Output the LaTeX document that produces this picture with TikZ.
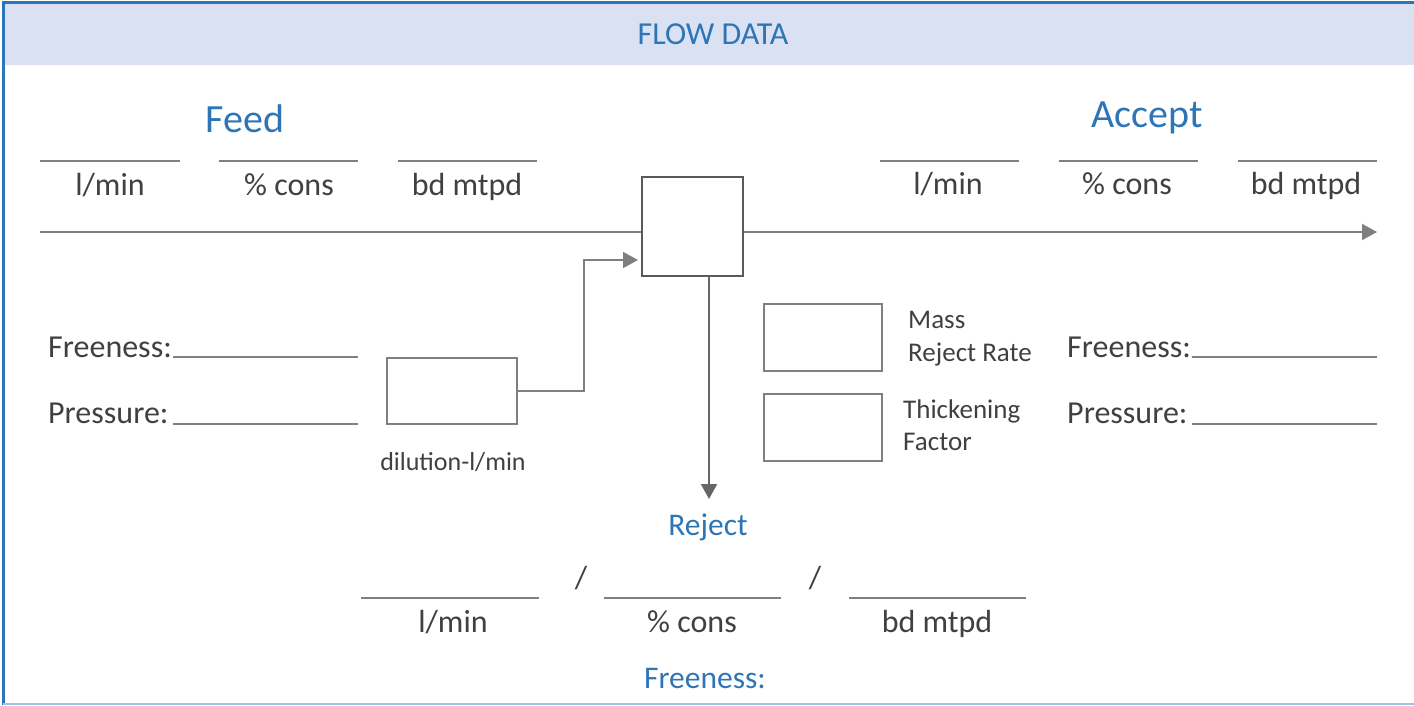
\documentclass[tikz,border=0pt]{standalone}
\usepackage{fontspec}
\setmainfont{Carlito}
\usetikzlibrary{arrows.meta}
\definecolor{hdrblue}{HTML}{2E75B6}
\definecolor{hdrfill}{HTML}{DAE1F3}
\definecolor{txtgray}{HTML}{404040}
\definecolor{linegray}{HTML}{808080}
\definecolor{boxgray}{HTML}{7F7F7F}
\definecolor{darkbox}{HTML}{595959}
\definecolor{botblue}{HTML}{9DC3E6}
\begin{document}
\begin{tikzpicture}[x=1pt,y=-1pt,
  lbl/.style={text=txtgray,font=\fontsize{32}{38}\selectfont,anchor=base,inner sep=0pt},
  small/.style={text=txtgray,font=\fontsize{27}{32}\selectfont,anchor=base west,inner sep=0pt},
  title/.style={text=hdrblue,font=\fontsize{40}{46}\selectfont,anchor=base,inner sep=0pt},
  bluelbl/.style={text=hdrblue,font=\fontsize{31.5}{36}\selectfont,anchor=base,inner sep=0pt},
  field/.style={linegray,line width=1.5pt},
  flow/.style={boxgray,line width=2pt},
  valbox/.style={draw=boxgray,line width=1.5pt,fill=white,inner sep=0pt},
  tip/.style={-{Triangle[length=15pt,width=16pt]}}
]
\useasboundingbox (0,0) rectangle (1414,705);
% frame and header
\fill[hdrfill] (3,3) rectangle (1414,65);
\draw[hdrblue,line width=3pt] (3,705) -- (3,2.5) -- (1414,2.5);
\draw[botblue,line width=2pt] (3,704) -- (1414,704);
\node[bluelbl,font=\fontsize{32}{38}\selectfont] (hdr) at (713,44) {FLOW DATA};

% titles
\node[title] (feed) at (245,132) {Feed};
\node[title] (accept) at (1147,127) {Accept};

% feed fields
\draw[field] (40,161) -- (180,161);
\draw[field] (219,161) -- (358,161);
\draw[field] (398,161) -- (537,161);
\node[lbl] (fl) at (110,195) {l/min};
\node[lbl] (fc) at (289,195) {\% cons};
\node[lbl] (fb) at (467,195) {bd mtpd};

% accept fields
\draw[field] (880,161) -- (1019,161);
\draw[field] (1059,161) -- (1198,161);
\draw[field] (1238,161) -- (1377,161);
\node[lbl] (al) at (948,194) {l/min};
\node[lbl] (ac) at (1127,194) {\% cons};
\node[lbl] (ab) at (1306,194) {bd mtpd};

% main flow
\coordinate (in) at (40,232);
\coordinate (out) at (1377,232);
\node[valbox,draw=darkbox,minimum width=101pt,minimum height=99pt] (screen) at (692.5,226.5) {};
\draw[flow] (in) -- (screen.west |- in);
\draw[flow,tip] (screen.east |- out) -- (out);

% dilution
\node[valbox,minimum width=130pt,minimum height=66pt] (dil) at (452,391) {};
\coordinate (dilin) at (638,260);
\draw[boxgray,line width=1.5pt,tip] (dil.east) -- (584,391) -- (584,260) -- (dilin);
\node[lbl,font=\fontsize{26}{30}\selectfont] (dill) at (453,470) {dilution-l/min};

% reject flow
\coordinate (rej) at (709,499);
\draw[flow,draw=txtgray!80,tip] (709,276) -- (rej);
\node[bluelbl] (rejl) at (708,535) {Reject};

% reject fields
\draw[field] (361,598) -- (539,598);
\draw[field] (604,598) -- (781,598);
\draw[field] (849,598) -- (1026,598);
\node[lbl] (s1) at (581,588) {/};
\node[lbl] (s2) at (815,588) {/};
\node[lbl] (rl) at (453,632) {l/min};
\node[lbl] (rc) at (692,632) {\% cons};
\node[lbl] (rb) at (937,632) {bd mtpd};
\node[bluelbl] (rf) at (705,688) {Freeness:};

% mass reject / thickening
\node[valbox,minimum width=118pt,minimum height=67pt] (mrr) at (823,337.5) {};
\node[valbox,minimum width=118pt,minimum height=67pt] (tf) at (823,427.5) {};
\node[small] (mrr1) at (908,328) {Mass};
\node[small] (mrr2) at (908,361) {Reject Rate};
\node[small] (tf1) at (903,418) {Thickening};
\node[small] (tf2) at (903,450) {Factor};

% left freeness / pressure
\node[lbl,anchor=base west] (lfree) at (48,357) {Freeness:};
\node[lbl,anchor=base west] (lpres) at (48,423) {Pressure:};
\draw[field] (173,357) -- (358,357);
\draw[field] (173,424) -- (358,424);

% right freeness / pressure
\node[lbl,anchor=base west] (rfree) at (1067,357) {Freeness:};
\node[lbl,anchor=base west] (rpres) at (1067,423) {Pressure:};
\draw[field] (1192,357) -- (1377,357);
\draw[field] (1192,424) -- (1377,424);
\end{tikzpicture}
\end{document}
